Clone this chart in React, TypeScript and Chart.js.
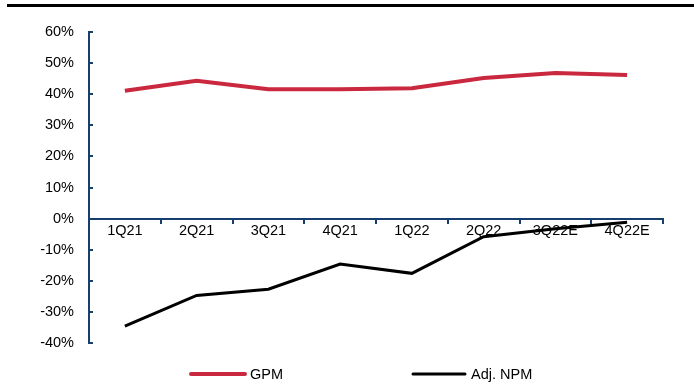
import React, { useEffect, useRef } from "react";
import { Chart, registerables } from "chart.js";

Chart.register(...registerables);

const categories = ["1Q21", "2Q21", "3Q21", "4Q21", "1Q22", "2Q22", "3Q22E", "4Q22E"];
const gpm = [41.1, 44.3, 41.6, 41.6, 41.9, 45.2, 46.8, 46.2];
const adjNpm = [-34.6, -24.7, -22.7, -14.6, -17.6, -5.8, -3.3, -1.2];
const seriesNames = ["GPM", "Adj. NPM"];
const yMin = -40;
const yMax = 60;
const yStep = 10;

const NAVY = "#173f6e";
const RED = "#c9283e";
const FONT = "Liberation Sans, Arial, sans-serif";
const FS = 14.5;

export default function App() {
  const ref = useRef<HTMLCanvasElement | null>(null);

  useEffect(() => {
    if (!ref.current) return;
    const tickPlugin = {
      id: "extras",
      afterDraw(chart: any) {
        const ctx = chart.ctx;
        const y = chart.scales.y;
        const x0 = chart.chartArea.left;
        ctx.save();
        ctx.strokeStyle = NAVY;
        ctx.lineWidth = 2;
        for (let v = yMin; v <= yMax; v += yStep) {
          const py = Math.round(y.getPixelForValue(v));
          ctx.beginPath();
          ctx.moveTo(x0, py);
          ctx.lineTo(x0 + 4, py);
          ctx.stroke();
        }
        // legend
        const ly = 374;
        const items = [
          { name: seriesNames[0], color: RED, w: 4, x1: 191, x2: 245, tx: 250 },
          { name: seriesNames[1], color: "#000", w: 3, x1: 413, x2: 465, tx: 471 },
        ];
        ctx.font = `${FS}px ${FONT}`;
        ctx.textBaseline = "middle";
        ctx.fillStyle = "#000";
        for (const it of items) {
          ctx.strokeStyle = it.color;
          ctx.lineWidth = it.w;
          ctx.lineCap = "round";
          ctx.beginPath();
          ctx.moveTo(it.x1, ly);
          ctx.lineTo(it.x2, ly);
          ctx.stroke();
          ctx.fillText(it.name, it.tx, ly + 1);
        }
        ctx.restore();
      },
    };

    const chart = new Chart(ref.current, {
      type: "line",
      data: {
        labels: categories,
        datasets: [
          {
            label: seriesNames[0],
            data: gpm,
            borderColor: RED,
            borderWidth: 4,
            pointRadius: 0,
            tension: 0,
          },
          {
            label: seriesNames[1],
            data: adjNpm,
            borderColor: "#000",
            borderWidth: 3,
            pointRadius: 0,
            tension: 0,
          },
        ],
      },
      options: {
        animation: false,
        responsive: false,
        maintainAspectRatio: false,
        layout: { padding: { left: 0, right: 31, top: 32, bottom: 42 } },
        plugins: { legend: { display: false }, tooltip: { enabled: false } },
        scales: {
          x: {
            type: "category",
            position: { y: 0 } as any,
            offset: true,
            grid: {
              offset: true,
              drawOnChartArea: false,
              drawTicks: true,
              tickLength: 4,
              color: NAVY,
              lineWidth: 2,
            },
            border: { color: NAVY, width: 2 },
            ticks: {
              color: "#000",
              font: { family: FONT, size: FS },
              padding: 0,
              maxRotation: 0,
              autoSkip: false,
            },
          },
          y: {
            min: yMin,
            max: yMax,
            position: "left",
            afterFit(scale: any) {
              scale.width = 89;
            },
            grid: { drawOnChartArea: false, drawTicks: false },
            border: { color: NAVY, width: 2 },
            ticks: {
              stepSize: yStep,
              color: "#000",
              padding: 15,
              font: { family: FONT, size: FS },
              callback: (v: any) => `${v}%`,
            },
          },
        },
      },
      plugins: [tickPlugin],
    });
    return () => chart.destroy();
  }, []);

  return (
    <div style={{ position: "fixed", left: 0, top: 0, width: 694, height: 385, background: "#fff" }}>
      <div style={{ position: "absolute", left: 7, top: 4, width: 687, height: 3, background: "#000" }} />
      <canvas ref={ref} width={694} height={385} style={{ position: "absolute", left: 0, top: 0 }} />
    </div>
  );
}
